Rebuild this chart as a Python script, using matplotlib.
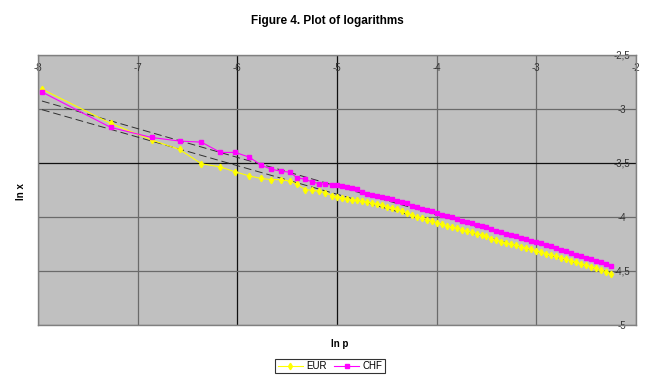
import matplotlib
matplotlib.use('Agg')
import matplotlib.pyplot as plt

plt.rcParams['font.family'] = ['Liberation Sans', 'DejaVu Sans']

# ln p values (shared by both series)
ln_p = [-7.96, -7.27, -6.86, -6.58, -6.36, -6.17, -6.02, -5.88, -5.76, -5.66,
        -5.56, -5.47, -5.40, -5.32, -5.25, -5.18, -5.12,
        -5.05, -5.00, -4.95, -4.90, -4.85, -4.80, -4.75, -4.70, -4.65, -4.60,
        -4.55, -4.50, -4.45, -4.40, -4.35, -4.30, -4.25, -4.20, -4.15, -4.10,
        -4.05, -4.00, -3.95, -3.90, -3.85, -3.80, -3.75, -3.70, -3.65, -3.60,
        -3.55, -3.50, -3.45, -3.40, -3.35, -3.30, -3.25, -3.20, -3.15, -3.10,
        -3.05, -3.00, -2.95, -2.90, -2.85, -2.80, -2.75, -2.70, -2.65, -2.60,
        -2.55, -2.50, -2.45, -2.40, -2.35, -2.30, -2.25]

ln_x_chf = [-2.847, -3.174, -3.267, -3.300, -3.310, -3.405, -3.405, -3.449, -3.523, -3.560,
            -3.579, -3.588, -3.640, -3.653, -3.678, -3.693, -3.700,
            -3.705, -3.710, -3.718, -3.728, -3.735, -3.745, -3.770, -3.785, -3.795, -3.805,
            -3.815, -3.828, -3.840, -3.850, -3.862, -3.875, -3.900, -3.912, -3.925, -3.935,
            -3.948, -3.965, -3.980, -3.990, -4.005, -4.020, -4.035, -4.048, -4.060, -4.072,
            -4.085, -4.098, -4.112, -4.128, -4.140, -4.155, -4.168, -4.180, -4.195, -4.208,
            -4.220, -4.232, -4.245, -4.258, -4.272, -4.290, -4.305, -4.320, -4.335, -4.350,
            -4.365, -4.378, -4.392, -4.405, -4.420, -4.438, -4.455]

ln_x_eur = [-2.820, -3.137, -3.290, -3.378, -3.510, -3.539, -3.585, -3.622, -3.646, -3.656,
            -3.656, -3.671, -3.700, -3.748, -3.755, -3.764, -3.776,
            -3.805, -3.815, -3.825, -3.838, -3.842, -3.848, -3.855, -3.862, -3.872, -3.885,
            -3.895, -3.905, -3.918, -3.930, -3.945, -3.965, -3.985, -4.000, -4.012, -4.025,
            -4.040, -4.055, -4.070, -4.082, -4.095, -4.108, -4.120, -4.132, -4.145, -4.155,
            -4.168, -4.180, -4.205, -4.218, -4.230, -4.242, -4.255, -4.265, -4.278, -4.290,
            -4.302, -4.315, -4.328, -4.340, -4.352, -4.365, -4.378, -4.392, -4.405, -4.420,
            -4.435, -4.448, -4.462, -4.476, -4.492, -4.508, -4.525]

# linear trend lines (end points)
trend_p = [-7.96, -2.24]
trend_chf = [-2.93, -4.45]
trend_eur = [-3.01, -4.52]

x_ticks = [-8, -7, -6, -5, -4, -3, -2]
y_ticks = [-5, -4.5, -4, -3.5, -3, -2.5]
y_labels = ['-5', '-4,5', '-4', '-3,5', '-3', '-2,5']

fig = plt.figure(figsize=(6.54, 3.82), dpi=100)
ax = fig.add_axes([38 / 654, 1 - 325 / 382, 598 / 654, 270.5 / 382])
ax.set_facecolor('#c0c0c0')
ax.set_xlim(-8, -2)
ax.set_ylim(-5, -2.5)

# grid
for v in x_ticks:
    c = '#101010' if v in (-6, -5) else '#6a6a6a'
    ax.axvline(v, color=c, lw=0.9, zorder=1)
for v in y_ticks:
    c = '#101010' if v == -3.5 else '#6a6a6a'
    ax.axhline(v, color=c, lw=0.9, zorder=1)

for s in ax.spines.values():
    s.set_color('#808080')
    s.set_linewidth(1)

ax.plot(trend_p, trend_chf, color='#303030', lw=0.7, dashes=(8, 4), zorder=2)
ax.plot(trend_p, trend_eur, color='#303030', lw=0.7, dashes=(8, 4), zorder=2)

ax.plot(ln_p, ln_x_eur, color='#ffff00', lw=0.8, marker='d', ms=3.3,
        mec='#ffff00', label='EUR', zorder=3)
ax.plot(ln_p, ln_x_chf, color='#ff00ff', lw=0.8, marker='s', ms=3,
        mec='#ff00ff', label='CHF', zorder=3)

ax.set_xticks(x_ticks)
ax.set_xticklabels([str(v) for v in x_ticks])
ax.set_yticks(y_ticks)
ax.set_yticklabels(y_labels)
ax.tick_params(axis='x', top=True, bottom=False, labeltop=True, labelbottom=False,
               length=0, pad=-13, labelsize=7, labelcolor='#333333')
ax.tick_params(axis='y', right=True, left=False, labelright=True, labelleft=False,
               length=0, pad=-10, labelsize=7, labelcolor='#333333')
for t in ax.get_yticklabels():
    t.set_horizontalalignment('center')

fig.text(327 / 654, 1 - 21 / 382, 'Figure 4. Plot of logarithms', ha='center',
         va='center', fontsize=8.5, fontweight='bold')
fig.text(340 / 654, 1 - 344 / 382, 'ln p', ha='center', va='center',
         fontsize=7, fontweight='bold')
fig.text(21 / 654, 1 - 192 / 382, 'ln x', ha='center', va='center',
         fontsize=7, fontweight='bold', rotation=90)

leg = fig.legend(loc='center', bbox_to_anchor=(330 / 654, 1 - 366 / 382), ncol=2,
                 fontsize=7, frameon=True, fancybox=False, borderpad=0.25,
                 handlelength=2.6, handletextpad=0.3, columnspacing=0.8,
                 borderaxespad=0)
leg.get_frame().set_edgecolor('black')
leg.get_frame().set_linewidth(0.8)

fig.savefig('out.png', dpi=100)
